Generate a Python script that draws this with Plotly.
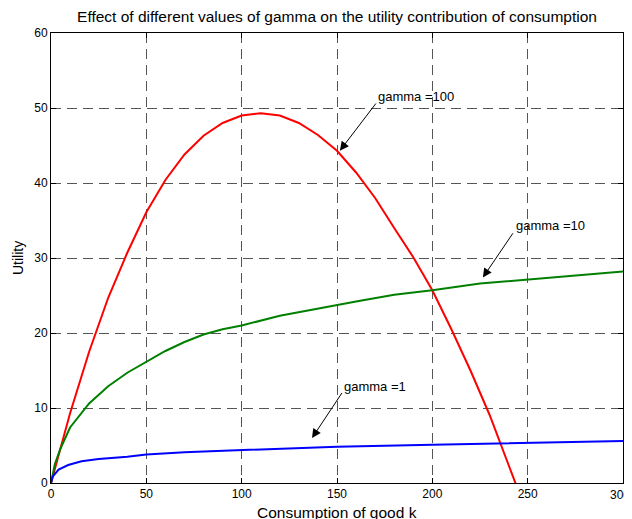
import plotly.graph_objects as go

# gamma = 100
x_g100 = [0, 5, 10, 20, 30, 40, 50, 60, 70, 80, 90, 100, 110, 120, 130, 140, 150,
          160, 170, 180, 190, 200, 210, 220, 230, 240, 245]
y_g100 = [0, 4.8, 9.3, 17.5, 24.7, 30.7, 36.1, 40.4, 43.8, 46.3, 48.0, 49.0, 49.3,
          49.0, 48.0, 46.4, 44.3, 41.4, 38.0, 34.0, 30.1, 25.7, 20.5, 15.0, 9.1, 2.4, -0.95]

# gamma = 10
x_g10 = [0, 2, 5, 10, 20, 30, 40, 50, 60, 70, 80, 90, 100, 120, 140, 160, 180, 200,
         225, 250, 275, 300]
y_g10 = [0, 2.5, 4.6, 7.4, 10.6, 12.9, 14.7, 16.2, 17.6, 18.8, 19.8, 20.5, 21.0,
         22.3, 23.3, 24.2, 25.1, 25.7, 26.6, 27.1, 27.7, 28.2]

# gamma = 1
x_g1 = [0, 1, 4, 9, 16, 25, 40, 50, 70, 100, 150, 200, 250, 300]
y_g1 = [0, 0.9, 1.8, 2.4, 2.9, 3.2, 3.5, 3.8, 4.1, 4.4, 4.85, 5.1, 5.35, 5.6]

x_ticks = [0, 50, 100, 150, 200, 250, 300]
x_tick_labels = ["0", "50", "100", "150", "200", "250", "300"]
y_ticks = [0, 10, 20, 30, 40, 50, 60]

FONT = "Liberation Sans, Arial, sans-serif"

fig = go.Figure()
fig.add_trace(go.Scatter(x=x_g100, y=y_g100, mode="lines",
                         line=dict(color="#FF0000", width=2), showlegend=False))
fig.add_trace(go.Scatter(x=x_g10, y=y_g10, mode="lines",
                         line=dict(color="#008000", width=2), showlegend=False))
fig.add_trace(go.Scatter(x=x_g1, y=y_g1, mode="lines",
                         line=dict(color="#0000FF", width=2), showlegend=False))

axis_common = dict(
    showline=True, linecolor="black", linewidth=1, mirror="ticks",
    ticks="inside", ticklen=5, tickcolor="black",
    showgrid=True, gridcolor="#555555", gridwidth=1, griddash="10px,6px",
    zeroline=False, tickfont=dict(family=FONT, size=12, color="black"),
)

# last x label sits on the page edge; drawn as an annotation so it is not dropped
fig.update_xaxes(range=[0, 300], tickvals=x_ticks,
                 ticktext=x_tick_labels[:-1] + [""], **axis_common)
fig.update_yaxes(range=[0, 60], tickvals=y_ticks, **axis_common)

ann = []
ann.append(dict(x=1, y=0, xref="paper", yref="paper", xshift=9, yshift=-12,
                text=x_tick_labels[-1], showarrow=False,
                xanchor="right", yanchor="middle",
                font=dict(family=FONT, size=12, color="black")))
# arrows (head at x,y; tail at ax,ay in data coords)
arrows = [
    (151.5, 44.3, 171.0, 50.8),
    (226.5, 27.4, 242.8, 33.5),
    (136.9, 6.0, 153.1, 12.2),
]
for hx, hy, tx, ty in arrows:
    ann.append(dict(x=hx, y=hy, ax=tx, ay=ty, axref="x", ayref="y", xref="x", yref="y",
                    text="", showarrow=True, arrowhead=2, arrowsize=1.8,
                    arrowwidth=1, arrowcolor="black"))
labels = [
    ("gamma =100", 171.0, 51.6),
    ("gamma =10", 243.3, 34.3),
    ("gamma =1", 153.1, 12.9),
]
for t, lx, ly in labels:
    ann.append(dict(x=lx, y=ly, xref="x", yref="y", text=t, showarrow=False,
                    xanchor="left", yanchor="middle", xshift=-1,
                    font=dict(family=FONT, size=13, color="black")))
# axis titles
ann.append(dict(x=0.5, y=0, xref="paper", yref="paper", yshift=-29,
                text="Consumption of good k", showarrow=False,
                xanchor="center", yanchor="middle",
                font=dict(family=FONT, size=15.5, color="black")))
ann.append(dict(x=0, y=0.5, xref="paper", yref="paper", xshift=-33,
                text="Utility", showarrow=False, textangle=-90,
                xanchor="center", yanchor="middle",
                font=dict(family=FONT, size=14, color="black")))

# page body has an 8px margin; figure is sized/offset to compensate
fig.update_layout(
    width=624, height=511,
    margin=dict(l=43, r=9, t=25, b=36),
    paper_bgcolor="white", plot_bgcolor="white",
    title=dict(text="Effect of different values of gamma on the utility contribution of consumption",
               x=0.5, xref="paper", xanchor="center", y=1 - 9 / 511, yanchor="middle",
               font=dict(family=FONT, size=15.5, color="black")),
    annotations=ann,
)

fig.write_html("out.html")
